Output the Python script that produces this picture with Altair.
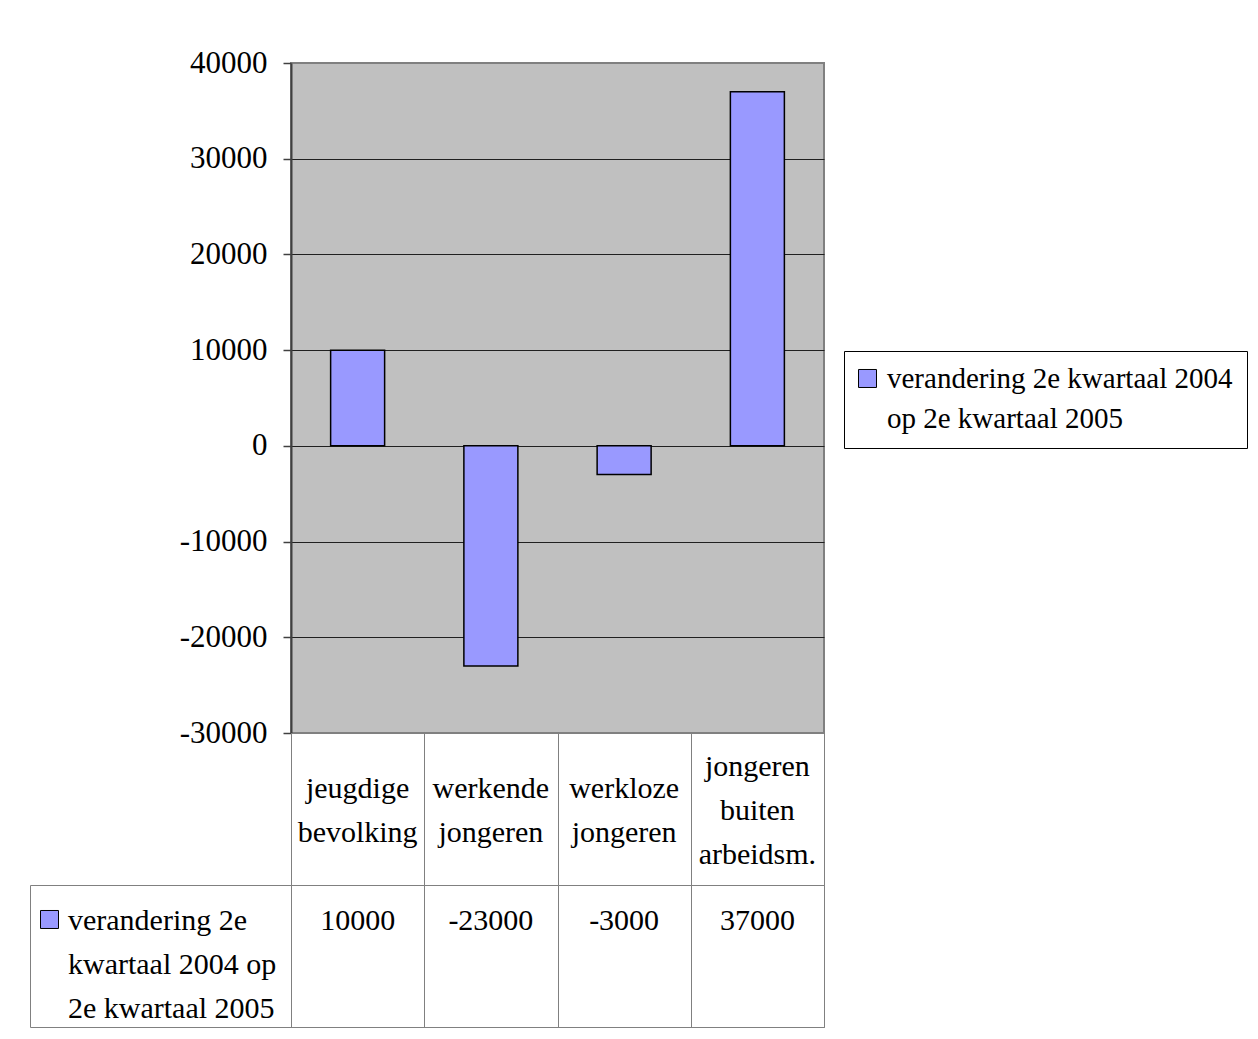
import altair as alt
import pandas as pd

# ---- data ----
categories = ["jeugdige bevolking", "werkende jongeren", "werkloze jongeren", "jongeren buiten arbeidsm."]
category_lines = [["jeugdige", "bevolking"], ["werkende", "jongeren"], ["werkloze", "jongeren"],
                  ["jongeren", "buiten", "arbeidsm."]]
values = [10000, -23000, -3000, 37000]
series_name = "verandering 2e kwartaal 2004 op 2e kwartaal 2005"
legend_lines = ["verandering 2e kwartaal 2004", "op 2e kwartaal 2005"]
table_key_lines = ["verandering 2e", "kwartaal 2004 op", "2e kwartaal 2005"]
y_ticks = [-30000, -20000, -10000, 0, 10000, 20000, 30000, 40000]

df = pd.DataFrame({
    "categorie": categories,
    "label": ["\n".join(l) for l in category_lines],
    "regels": [len(l) for l in category_lines],
    "waarde": values,
    "reeks": [series_name] * len(categories),
})

FONT = "Liberation Serif"
FS = 30
LH = 44
BAR = "#9999FF"
GRAY = "#808080"
DARK = "#404040"
W = 533
# legend square, nudged down a little so it sits beside the first text line
KEY_SYMBOL = "M-1,-0.556H1V1.444H-1Z"

color_scale = alt.Scale(domain=[series_name], range=[BAR])


def band_x(axis):
    return alt.X("categorie:N", sort=categories,
                 scale=alt.Scale(paddingInner=0, paddingOuter=0), axis=axis)


table_axis = alt.Axis(title=None, labels=False, ticks=False, domain=False, grid=True,
                      tickBand="extent", gridColor=GRAY, gridWidth=1)


def key_legend(lines, fs, lh, **kw):
    return alt.Legend(orient="none", title=lines, titleOrient="right",
                      titleFont=FONT, titleFontSize=fs, titleFontWeight="normal",
                      titleColor="black", titleLineHeight=lh, titleLimit=1000,
                      titleAnchor="start", titleAlign="left", titleBaseline="top",
                      labelExpr="''", labelOffset=0,
                      symbolType=KEY_SYMBOL, symbolSize=324,
                      symbolStrokeColor="black", symbolStrokeWidth=1, **kw)


# ---- row 1: the bars ----
bars = alt.Chart(df).mark_bar(size=54, stroke="black", strokeWidth=1.5).encode(
    x=band_x(None),
    y=alt.Y("waarde:Q",
            scale=alt.Scale(domain=[-30000, 40000], nice=False),
            axis=alt.Axis(values=y_ticks, title=None, labelExpr="'' + datum.value",
                          labelFont=FONT, labelFontSize=31, labelColor="black",
                          labelPadding=16, tickSize=8, tickColor=DARK, tickWidth=1.5,
                          domainColor=DARK, domainWidth=2, grid=True,
                          gridColor={"condition": {"test": "datum.value >= 40000", "value": GRAY},
                                     "value": "#202020"},
                          gridWidth=1)),
    color=alt.Color("reeks:N", scale=color_scale,
                    legend=key_legend(legend_lines, 29, 40, legendX=553, legendY=288,
                                      titlePadding=8, strokeColor="black",
                                      fillColor="white", padding=14)),
).properties(width=W, height=670,
             view=alt.ViewBackground(fill="#C0C0C0", stroke=GRAY, strokeWidth=2))

# ---- row 2: category labels of the data table (block centred in each cell) ----
cat_layers = []
for n in sorted(set(df["regels"])):
    cat_layers.append(
        alt.Chart(df).transform_filter(alt.datum.regels == n).mark_text(
            font=FONT, fontSize=FS, lineBreak="\n", lineHeight=LH, align="center",
            baseline="alphabetic", dy=11 - (n - 1) * LH / 2, color="black").encode(
            x=band_x(table_axis),
            text="label:N",
        )
    )
cats = alt.layer(*cat_layers).properties(
    width=W, height=152, view=alt.ViewBackground(fill="white", stroke=GRAY, strokeWidth=1))

# ---- row 3: values of the data table with its key ----
vals_text = alt.Chart(df).mark_text(font=FONT, fontSize=FS, align="center", baseline="top",
                                    dy=21, color="black").encode(
    x=band_x(table_axis),
    y=alt.Y(datum=1, type="quantitative", scale=alt.Scale(domain=[0, 1]),
            axis=alt.Axis(orient="right", offset=-794, values=[0, 1], labels=False, title=None,
                          grid=False, tickSize=794, tickColor=GRAY, tickWidth=1,
                          domainColor=GRAY, domainWidth=1)),
    text=alt.Text("waarde:N"),
)

key = alt.Chart(df).mark_text(text=" ").encode(
    color=alt.Color("reeks:N", scale=color_scale,
                    legend=key_legend(table_key_lines, FS, LH, legendX=-251, legendY=21,
                                      titlePadding=7, padding=0)),
)

vals = alt.layer(vals_text, key).properties(
    width=W, height=142, view=alt.ViewBackground(fill="white", stroke=GRAY, strokeWidth=1))

chart = alt.vconcat(bars, cats, vals, spacing=0, bounds="flush").resolve_scale(
    color="independent").resolve_legend(color="independent").properties(
    padding={"left": 21, "top": 38, "right": 0, "bottom": 5},
).configure(font=FONT)

chart.save("out.html", embed_options={"renderer": "svg", "actions": False})
